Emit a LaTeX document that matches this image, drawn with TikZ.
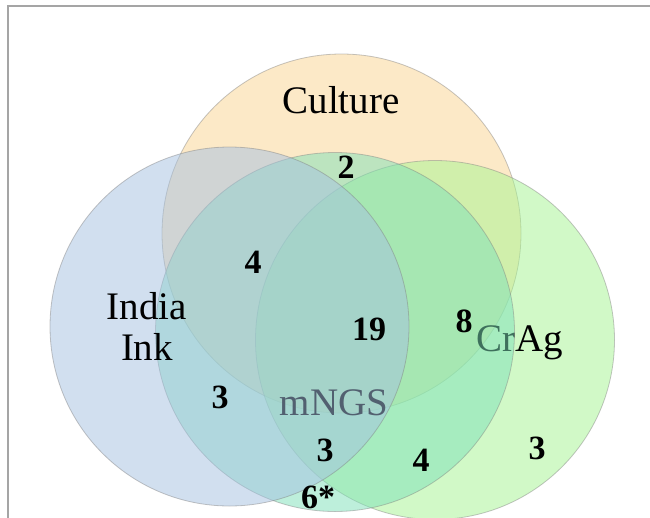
\documentclass[tikz,border=0pt]{standalone}
\usepackage{fontspec}
\setmainfont{Liberation Serif}
\definecolor{cultC}{RGB}{251,213,145}
\definecolor{indiaC}{RGB}{165,193,225}
\definecolor{crC}{RGB}{165,245,145}
\definecolor{ngsC}{RGB}{125,225,185}
\definecolor{frameC}{RGB}{165,165,165}
\tikzset{
  setcircle/.style={circle, inner sep=0pt, minimum size=359pt, fill=#1, fill opacity=0.5, draw=gray, draw opacity=0.45, line width=0.8pt},
  setlabel/.style={font=\fontsize{39}{41}\selectfont, text=black, inner sep=0pt, align=center},
  count/.style={font=\bfseries\fontsize{34}{36}\selectfont, text=black, inner sep=0pt}
}
\begin{document}
\begin{tikzpicture}[x=1pt,y=-1pt]
\useasboundingbox (0,0) rectangle (650,517);
\fill[white] (0,0) rectangle (650,517);
\clip (0,0) rectangle (650,517);
% frame
\coordinate (fbl) at (8,520);
\coordinate (ftl) at (8,6);
\coordinate (ftr) at (652,6);
\draw[frameC, line width=1.5pt] (fbl) -- (ftl) -- (ftr);
% circles and labels in stacking order
\node[setcircle=cultC] (culture) at (341.5,233.5) {};
\node[setlabel] (lculture) at (341,100) {Culture};
\node[setcircle=crC] (crag) at (435,340) {};
\node[setlabel, anchor=base] (lcrag) at (520,351) {CrAg};
\node[setcircle=ngsC] (mngs) at (335,332) {};
\node[setlabel, anchor=base] (lmngs) at (334,415) {mNGS};
\node[setcircle=indiaC] (india) at (229.5,326.5) {};
\node[setlabel] (lindia) at (147,326) {India\\Ink};
% counts
\node[count] (n2) at (346,167) {2};
\node[count] (n4a) at (253,262) {4};
\node[count] (n19) at (369,329) {19};
\node[count] (n8) at (464,321) {8};
\node[count] (n3a) at (220,397) {3};
\node[count] (n3b) at (325,450) {3};
\node[count] (n4b) at (421,460) {4};
\node[count] (n3c) at (537,448) {3};
\node[count] (n6) at (318,497) {6*};
\end{tikzpicture}
\end{document}
